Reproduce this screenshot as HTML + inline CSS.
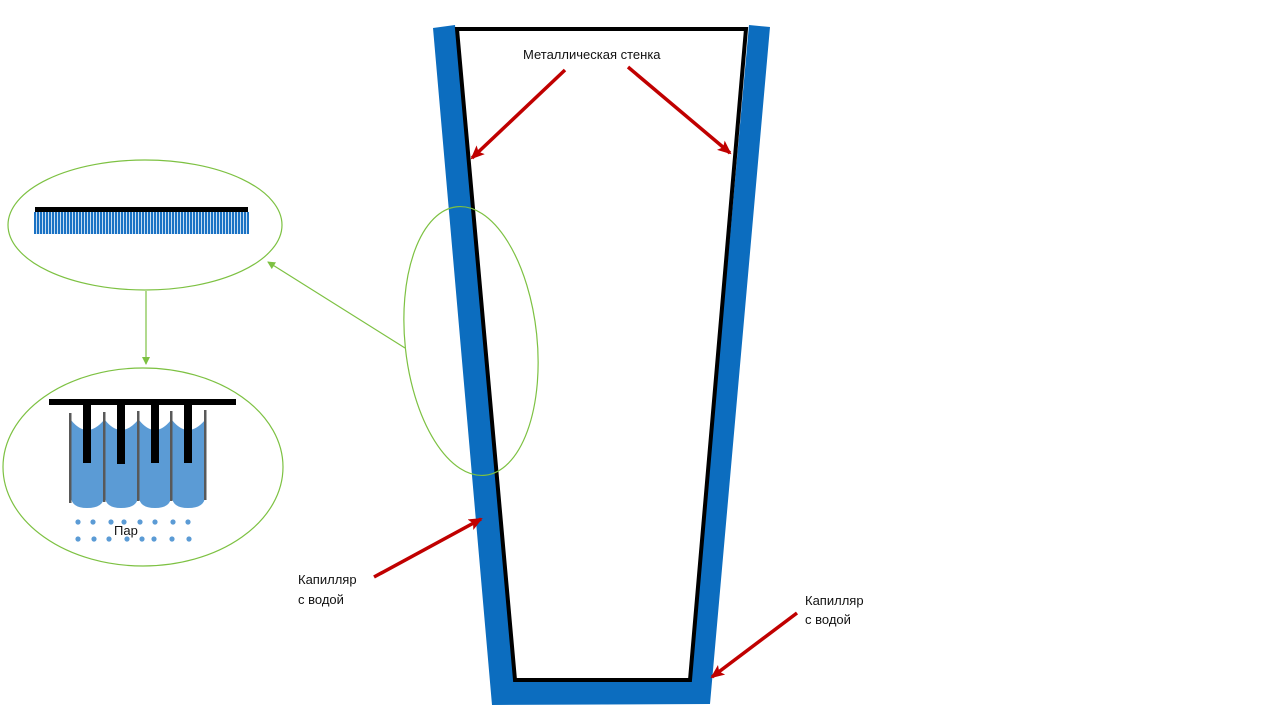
<!DOCTYPE html>
<html><head><meta charset="utf-8"><style>
html,body{margin:0;padding:0;background:#fff;}
svg{display:block;}
text{font-family:"Liberation Sans",sans-serif;font-size:13px;fill:#111;}
</style></head><body>
<svg width="1280" height="720" viewBox="0 0 1280 720" xmlns="http://www.w3.org/2000/svg">
<defs>
<pattern id="st" x="34" y="0" width="3" height="10" patternUnits="userSpaceOnUse">
<rect x="0" y="0" width="2.2" height="10" fill="#1a72c4"/><rect x="2.2" y="0" width="0.8" height="10" fill="#cfe2f5"/>
</pattern>
<marker id="ra" markerWidth="14" markerHeight="12" refX="12" refY="6" orient="auto" markerUnits="userSpaceOnUse" viewBox="0 0 14 12">
<path d="M0,0 L14,6 L0,12 L3,6 Z" fill="#c00000"/></marker>
<marker id="ga" markerWidth="8" markerHeight="8" refX="7" refY="4" orient="auto" markerUnits="userSpaceOnUse" viewBox="0 0 8 8">
<path d="M0,0 L8,4 L0,8 Z" fill="#7dc142"/></marker>
</defs>

<polygon points="433,28 455,25 515,680 690,680 749,25 770,27 710,704 492,705" fill="#0c6dbf"/>
<polygon points="457,29 746,29 690,680 515,680" fill="none" stroke="#000" stroke-width="4" stroke-linejoin="miter"/>

<text x="523" y="59">Металлическая стенка</text>
<line x1="565" y1="70" x2="472" y2="158" stroke="#c00000" stroke-width="3.5" marker-end="url(#ra)"/>
<line x1="628" y1="67" x2="730" y2="153" stroke="#c00000" stroke-width="3.5" marker-end="url(#ra)"/>
<line x1="374" y1="577" x2="481" y2="519" stroke="#c00000" stroke-width="3.5" marker-end="url(#ra)"/>
<line x1="797" y1="613" x2="712" y2="677" stroke="#c00000" stroke-width="3.5" marker-end="url(#ra)"/>
<text x="298" y="584">Капилляр</text>
<text x="298" y="604">с водой</text>
<text x="805" y="605">Капилляр</text>
<text x="805" y="624">с водой</text>

<ellipse cx="471" cy="341" rx="66" ry="135" transform="rotate(-6 471 341)" fill="none" stroke="#7dc142" stroke-width="1.2"/>
<ellipse cx="145" cy="225" rx="137" ry="65" fill="none" stroke="#7dc142" stroke-width="1.2"/>
<ellipse cx="143" cy="467" rx="140" ry="99" fill="none" stroke="#7dc142" stroke-width="1.2"/>
<line x1="405" y1="348" x2="268" y2="262" stroke="#7dc142" stroke-width="1.2" marker-end="url(#ga)"/>
<line x1="146" y1="291" x2="146" y2="364" stroke="#7dc142" stroke-width="1.2" marker-end="url(#ga)"/>

<rect x="34" y="212" width="215" height="22" fill="url(#st)"/>
<rect x="35" y="207" width="213" height="5" fill="#000"/>

<g fill="#5b9bd5">
<path d="M71,420 Q87,440 104,420 L104,496 Q104,508 87,508 Q71,508 71,496 Z"/>
<path d="M105,420 Q121,440 138,420 L138,496 Q138,508 121,508 Q105,508 105,496 Z"/>
<path d="M139,420 Q155,440 171,420 L171,496 Q171,508 155,508 Q139,508 139,496 Z"/>
<path d="M172,420 Q188,440 205,420 L205,496 Q205,508 188,508 Q172,508 172,496 Z"/>
</g>
<g fill="#595959">
<rect x="69" y="413" width="2.5" height="90"/><rect x="103" y="412" width="2.5" height="90"/>
<rect x="137" y="411" width="2.5" height="90"/><rect x="170" y="411" width="2.5" height="90"/>
<rect x="204" y="410" width="2.5" height="90"/>
</g>
<g fill="#000">
<rect x="49" y="399" width="187" height="6"/>
<rect x="83" y="404" width="8" height="59"/><rect x="117" y="404" width="8" height="60"/>
<rect x="151" y="404" width="8" height="59"/><rect x="184" y="404" width="8" height="59"/>
</g>
<g fill="#5b9bd5">
<circle cx="78" cy="522" r="2.6"/><circle cx="93" cy="522" r="2.6"/><circle cx="111" cy="522" r="2.6"/><circle cx="124" cy="522" r="2.6"/><circle cx="140" cy="522" r="2.6"/><circle cx="155" cy="522" r="2.6"/><circle cx="173" cy="522" r="2.6"/><circle cx="188" cy="522" r="2.6"/>
<circle cx="78" cy="539" r="2.6"/><circle cx="94" cy="539" r="2.6"/><circle cx="109" cy="539" r="2.6"/><circle cx="127" cy="539" r="2.6"/><circle cx="142" cy="539" r="2.6"/><circle cx="154" cy="539" r="2.6"/><circle cx="172" cy="539" r="2.6"/><circle cx="189" cy="539" r="2.6"/>
</g>
<text x="114" y="535">Пар</text>
</svg>
</body></html>
